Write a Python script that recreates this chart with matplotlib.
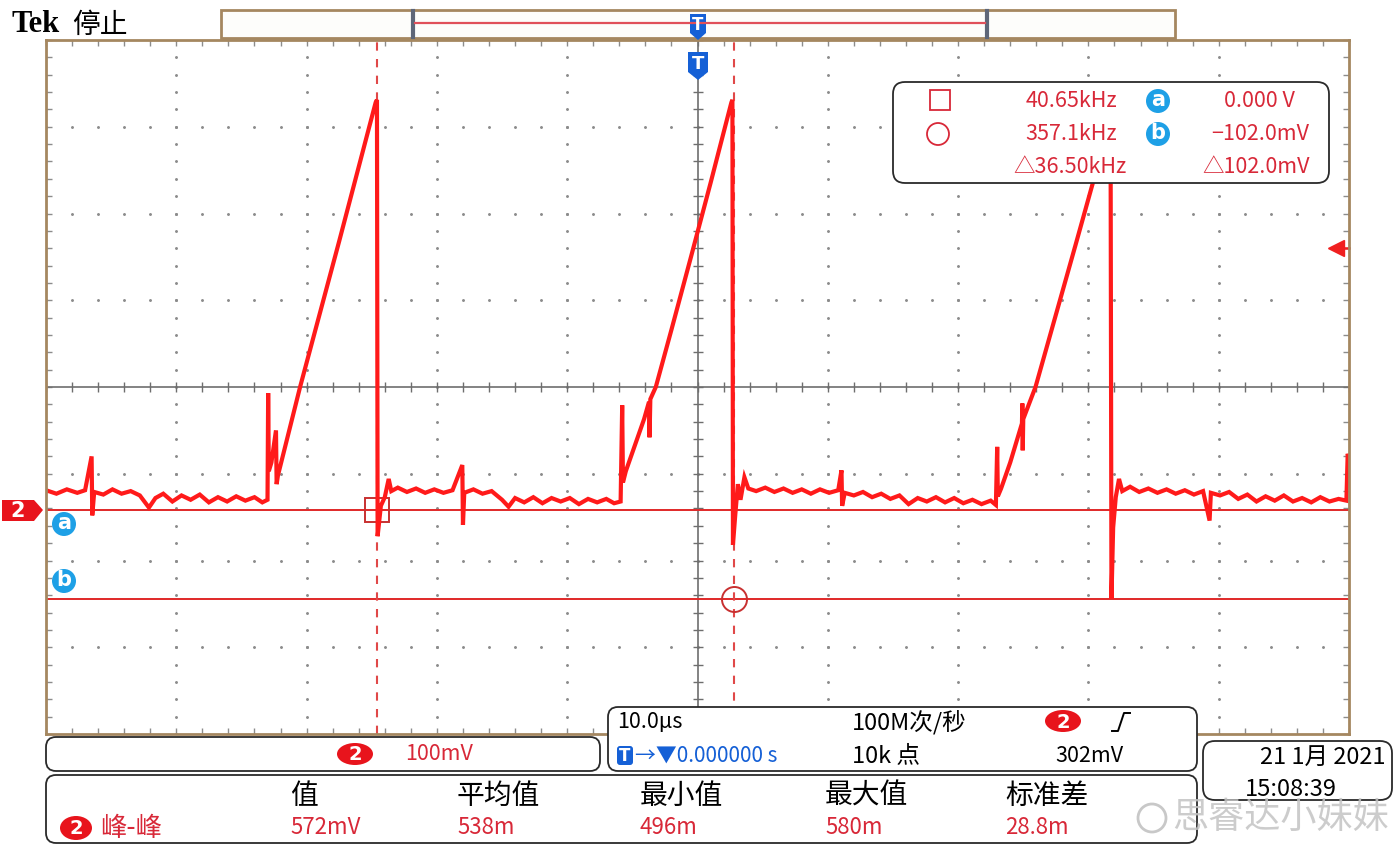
import numpy as np
import matplotlib
matplotlib.use("Agg")
import matplotlib.pyplot as plt
from matplotlib.patches import FancyBboxPatch, Rectangle, Circle, Polygon, Ellipse

plt.rcParams['font.family'] = ['Noto Sans CJK SC', 'DejaVu Sans']

# channel 2 trace: time in us, voltage in mV
t_us = [-50.0, -49.2, -48.4, -47.6, -47.0, -46.5, -46.45, -46.3, -45.6, -44.9, -44.2, -43.5,
        -42.8, -42.1, -41.6, -41.0, -40.3, -39.6, -38.9, -38.2, -37.5, -36.8, -36.1, -35.4,
        -34.7, -34.0, -33.4, -33.0,
        -32.95, -32.9, -32.7, -32.35, -32.3, -32.2, -30.5, -27.5, -24.7, -24.6,
        -24.55, -24.3, -24.0, -23.7, -23.5, -23.0, -22.3, -21.6, -20.9, -20.2, -19.5, -18.8,
        -18.05, -18.0, -17.9, -17.2, -16.5, -15.8, -15.0, -14.5, -14.0, -13.3, -12.6, -11.9,
        -11.2, -10.5, -9.8, -9.1, -8.4, -7.7, -7.0, -6.4, -5.9,
        -5.78, -5.72, -5.5, -4.8, -4.1, -3.72, -3.68, -3.62, -3.2, -2.0, -0.5, 1.0, 2.0, 2.6, 2.68,
        2.72, 2.9, 3.1, 3.3, 3.6, 3.9, 4.5, 5.2, 5.9, 6.6, 7.3, 8.0, 8.7, 9.4, 10.1, 10.8,
        11.05, 11.1, 11.3, 12.0, 12.7, 13.4, 14.1, 14.8, 15.5, 16.2, 16.9, 17.6, 18.3, 19.0,
        19.7, 20.4, 21.1, 21.8, 22.5, 22.9,
        23.0, 23.05, 23.3, 24.0, 24.6, 24.9, 24.93, 24.96, 25.0, 25.94, 27.5, 29.0, 30.3, 31.0, 31.7,
        31.77, 31.9, 32.1, 32.35, 32.6, 33.2, 33.9, 34.6, 35.3, 36.0, 36.7, 37.4, 38.1, 38.8,
        39.3, 39.4, 40.1, 40.8, 41.5, 42.2, 42.9, 43.6, 44.3, 45.0, 45.7, 46.4, 47.1, 47.8,
        48.5, 49.2, 49.8, 49.9, 50.0]
v_mv = [23, 19, 24, 20, 23, 62, -6, 21, 18, 24, 19, 22,
        17, 3, 14, 19, 10, 17, 12, 18, 9, 15, 10, 16,
        11, 15, 9, 12,
        135, 45, 55, 92, 30, 40, 142, 310, 470, 473,
        -30, 5, 15, 36, 22, 26, 21, 25, 20, 24, 20, 23,
        52, -17, 20, 24, 19, 22, 12, 4, 14, 9, 15, 8,
        14, 10, 14, 7, 13, 9, 13, 8, 10,
        121, 32, 45, 75, 105, 125, 84, 128, 142, 208, 292, 377, 435, 470, 473,
        -40, -5, 30, 12, 38, 25, 22, 26, 21, 25, 20, 24, 19, 24, 20, 23,
        46, 5, 20, 17, 21, 15, 19, 13, 17, 7, 14, 10, 15, 9,
        14, 8, 12, 7, 11, 6,
        73, 16, 25, 55, 85, 100, 123, 69, 105, 142, 225, 305, 375, 412, 450,
        -102, -20, 15, 36, 22, 27, 21, 25, 20, 24, 19, 23, 18, 22,
        -12, 20, 17, 21, 13, 18, 10, 16, 11, 17, 10, 14, 9, 15,
        10, 13, 11, 65, 60]

time_per_div_us = 10.0
volts_per_div_mv = 100.0
ch2_offset_div = 2.58

cursor_a_mv = 0.0
cursor_b_mv = -102.0
cursor_t1_us = -24.6
cursor_t2_us = 2.8
trig_level_mv = 302.0

cursor_freqs = ["40.65kHz", "357.1kHz", "△36.50kHz"]
cursor_volts = ["0.000 V", "−102.0mV", "△102.0mV"]
meas_names = ["值", "平均值", "最小值", "最大值", "标准差"]
meas_values = ["572mV", "538m", "496m", "580m", "28.8m"]

W, H = 1400, 846
RED = '#ff1a1a'
TXT_RED = '#d82838'
BLUE = '#1ea0e6'
TBLUE = '#1560d6'
GRID = '#8c8c8c'
FRAME = '#a58760'

fig = plt.figure(figsize=(14, 8.46), dpi=100)
fig.patch.set_facecolor('white')

ax = fig.add_axes([46 / W, 1 - 734 / H, 1303 / W, 694 / H])
x0, x1 = -5 * time_per_div_us, 5 * time_per_div_us
y0 = -ch2_offset_div * volts_per_div_mv
y1 = y0 + 8 * volts_per_div_mv
ax.set_xlim(x0, x1)
ax.set_ylim(y0, y1)

# graticule dots
xmaj = np.arange(x0, x1 + 0.01, time_per_div_us)
ymaj = y0 + np.arange(0, 9) * volts_per_div_mv
xmin = np.arange(x0, x1 + 0.01, time_per_div_us / 5)
ymin = y0 + np.arange(0, 41) * volts_per_div_mv / 5
for xv in xmaj[1:-1]:
    if abs(xv) > 1e-6:
        ax.plot(np.full(len(ymin), xv), ymin, ls='none', marker='.', ms=2.2, color=GRID)
for yv in ymaj[1:-1]:
    if abs(yv - (y0 + 400)) > 1e-6:
        ax.plot(xmin, np.full(len(xmin), yv), ls='none', marker='.', ms=2.2, color=GRID)

# centre cross with minor ticks
yc = y0 + 4 * volts_per_div_mv
ax.axvline(0, color='#6e6e6e', lw=1.2)
ax.axhline(yc, color='#6e6e6e', lw=1.2)
ax.plot(np.zeros(len(ymin)), ymin, ls='none', marker='_', ms=7, color='#6e6e6e', mew=1)
ax.plot(xmin, np.full(len(xmin), yc), ls='none', marker='|', ms=7, color='#6e6e6e', mew=1)

ax.set_xticks(xmaj)
ax.set_yticks(ymaj)
ax.set_xticks(xmin, minor=True)
ax.set_yticks(ymin, minor=True)
ax.tick_params(which='both', direction='in', length=4, width=1, color=GRID,
               top=True, right=True, labelbottom=False, labelleft=False)
for sp in ax.spines.values():
    sp.set_color(FRAME)
    sp.set_linewidth(2)

# cursors
ax.axhline(cursor_a_mv, color='#e02828', lw=1.4)
ax.axhline(cursor_b_mv, color='#e02828', lw=1.4)
ax.axvline(cursor_t1_us, color='#e04848', lw=1.5, dashes=(4, 4))
ax.axvline(cursor_t2_us, color='#e04848', lw=1.5, dashes=(4, 4))
ax.plot([cursor_t1_us], [cursor_a_mv], marker='s', ms=17, mfc='none', mec='#c83030', mew=1.4)
ax.plot([cursor_t2_us], [cursor_b_mv], marker='o', ms=18, mfc='none', mec='#c83030', mew=1.4)

# trace
ax.plot(t_us, v_mv, color=RED, lw=3.0, solid_joinstyle='miter')

# trigger level arrow at right edge
ax.plot([x1 - 1.0], [trig_level_mv], marker='<', ms=12, color='#f02020', clip_on=False)
ax.plot([x1 - 1.0, x1], [trig_level_mv, trig_level_mv], color='#f02020', lw=1.8, clip_on=False)

# overlay in pixel coordinates
ov = fig.add_axes([0, 0, 1, 1], zorder=5)
ov.set_xlim(0, W)
ov.set_ylim(H, 0)
ov.axis('off')


def panel(x, y, w, h, r=10):
    ov.add_patch(FancyBboxPatch((x, y), w, h, boxstyle=f"round,pad=0,rounding_size={r}",
                                fc='white', ec='#2a2a2a', lw=1.3))


def badge(x, y, s, fc, w=36, h=22, fs=14):
    ov.add_patch(Ellipse((x, y), w, h, fc=fc, ec='none'))
    ov.text(x, y + 1, s, color='white', fontsize=fs, fontweight='bold', ha='center', va='center',
            family='DejaVu Sans')


def circ_label(x, y, s):
    ov.add_patch(Circle((x, y), 12, fc=BLUE, ec='none'))
    ov.text(x, y - 1, s, color='white', fontsize=15, fontweight='bold', ha='center', va='center',
            family='DejaVu Sans')


# title
ov.text(12, 25, "Tek", family='Liberation Serif', fontweight='bold', fontsize=22, va='center')
ov.text(72, 25, "停止", fontsize=20, va='center')

# record bar
ov.add_patch(Rectangle((221, 10), 954, 28, fc='#fdfdfb', ec=FRAME, lw=2))
ov.plot([413, 413], [11, 37], color='#5e6678', lw=3)
ov.plot([987, 987], [11, 37], color='#5e6678', lw=3)
ov.plot([415, 985], [23, 23], color='#e0505a', lw=1.6)
ov.add_patch(Polygon([(690, 14), (706, 14), (706, 33), (698, 40), (690, 33)], fc=TBLUE, ec='none'))
ov.text(698, 25, "T", color='white', fontsize=12, fontweight='bold', ha='center', va='center',
        family='DejaVu Sans')
ov.add_patch(Polygon([(688, 52), (708, 52), (708, 72), (698, 80), (688, 72)], fc=TBLUE, ec='none'))
ov.text(698, 64, "T", color='white', fontsize=13, fontweight='bold', ha='center', va='center',
        family='DejaVu Sans')

# channel marker and cursor labels
ov.add_patch(Polygon([(2, 500), (34, 500), (43, 510), (34, 521), (2, 521)], fc='#e8141c', ec='none'))
ov.text(18, 511, "2", color='white', fontsize=15, fontweight='bold', ha='center', va='center',
        family='DejaVu Sans')
circ_label(64, 524, "a")
circ_label(64, 581, "b")

# cursor readout box
panel(893, 82, 436, 101, r=12)
ov.add_patch(Rectangle((930, 90), 20, 20, fc='none', ec=TXT_RED, lw=1.3))
ov.add_patch(Circle((938, 134), 11, fc='none', ec=TXT_RED, lw=1.3))
rows_y = [101, 134, 167]
freq_right = [1117, 1117, 1127]
volt_right = [1295, 1309, 1310]
for i in range(3):
    ov.text(freq_right[i], rows_y[i], cursor_freqs[i], color=TXT_RED, fontsize=15.5, ha='right', va='center')
    ov.text(volt_right[i], rows_y[i], cursor_volts[i], color=TXT_RED, fontsize=15.5, ha='right', va='center')
circ_label(1158, 101, "a")
circ_label(1158, 134, "b")

# bottom: vertical scale
panel(46, 737, 554, 34, r=10)
badge(355, 754, "2", '#e8141c')
ov.text(405, 754, "100mV", color=TXT_RED, fontsize=15.5, va='center')

# bottom: horizontal / trigger
panel(608, 707, 589, 64, r=10)
ov.text(617, 722, "10.0µs", fontsize=15.5, va='center')
ov.text(852, 722, "100M次/秒", fontsize=17, va='center')
badge(1063, 721, "2", '#e8141c')
ov.plot([1112, 1118, 1124, 1130], [731, 731, 713, 713], color='black', lw=1.4)
ov.add_patch(FancyBboxPatch((617, 746), 16, 19, boxstyle="round,pad=0,rounding_size=3", fc=TBLUE, ec='none'))
ov.text(625, 756, "T", color='white', fontsize=12, fontweight='bold', ha='center', va='center',
        family='DejaVu Sans')
ov.text(635, 756, "→▼0.000000 s", color=TBLUE, fontsize=15, va='center')
ov.text(852, 756, "10k 点", fontsize=17, va='center')
ov.text(1055, 756, "302mV", fontsize=15.5, va='center')

# bottom: measurements
panel(46, 775, 1151, 68, r=10)
meas_x = [290, 457, 640, 825, 1005]
for i in range(len(meas_names)):
    ov.text(meas_x[i], 796, meas_names[i], fontsize=20, va='center')
    ov.text(meas_x[i], 828, meas_values[i], color=TXT_RED, fontsize=16, va='center')
badge(76, 828, "2", '#e8141c', w=32, h=24)
ov.text(100, 828, "峰-峰", color=TXT_RED, fontsize=19, va='center')

# date box
panel(1203, 741, 189, 59, r=12)
ov.text(1385, 757, "21 1月 2021", fontsize=17, ha='right', va='center')
ov.text(1245, 789, "15:08:39", fontsize=17, va='center')

# watermark
ov.add_patch(Circle((1152, 818), 14, fc='none', ec='#c8c8c8', lw=2))
ov.text(1172, 818, "思睿达小妹妹", fontsize=26, color='#c4c4c4', va='center', alpha=0.85)

fig.savefig("out.png", dpi=100)
